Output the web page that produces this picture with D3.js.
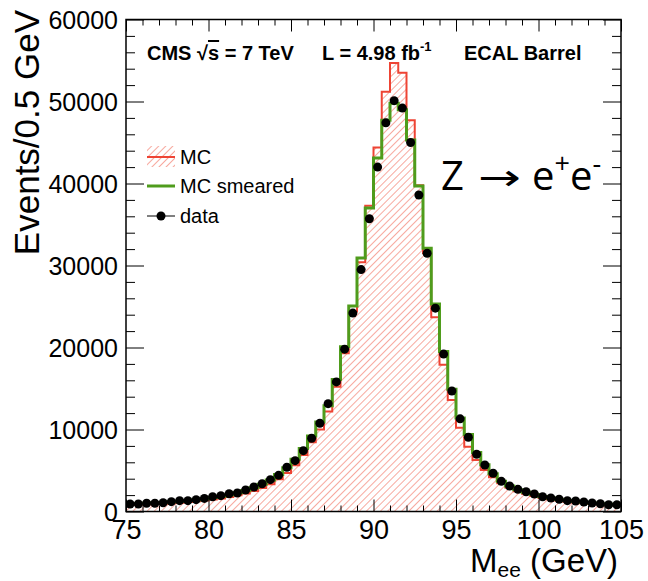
<!DOCTYPE html>
<html>
<head>
<meta charset="utf-8">
<script src="https://cdn.jsdelivr.net/npm/d3@7"></script>
<style>
  html, body { margin: 0; padding: 0; background: #ffffff; }
  svg { display: block; }
  text { font-family: "Liberation Sans", Arial, Helvetica, sans-serif; fill: #000; }
</style>
</head>
<body>
<svg id="chart" width="648" height="581"></svg>
<script>
// Dielectron invariant mass, 0.5 GeV bins from 75 to 105 GeV (lower bin edges)
const binEdges = d3.range(60).map(i => 75 + i * 0.5);

// Simulation without extra energy smearing
const mcValues = [
  800, 820, 860, 900, 950, 1010, 1080, 1150, 1240, 1340,
  1460, 1600, 1770, 1970, 2210, 2500, 2870, 3330, 3920, 4680,
  5650, 6900, 8450, 10000, 12200, 15200, 19300, 24400, 30400, 37300,
  44400, 51200, 54700, 53500, 47700, 39800, 31500, 23700, 17900, 13600,
  10200, 7900, 6280, 5060, 4170, 3450, 2900, 2480, 2150, 1880,
  1660, 1480, 1330, 1200, 1090, 1000, 920, 850, 790, 740
];

// Simulation after smearing
const mcSmearedValues = [
  950, 980, 1020, 1060, 1110, 1180, 1260, 1340, 1440, 1560,
  1700, 1860, 2050, 2280, 2560, 2900, 3320, 3850, 4500, 5330,
  6380, 7680, 9200, 10900, 12900, 16100, 20100, 25060, 30900, 37000,
  43100, 47700, 49800, 49000, 45300, 39700, 32100, 25300, 19500, 14900,
  11400, 9400, 7200, 5700, 4600, 3700, 3100, 2650, 2350, 2080,
  1820, 1640, 1470, 1340, 1230, 1120, 1030, 950, 880, 820
];

// Recorded events per bin
const dataValues = [
  910, 920, 1000, 1000, 1070, 1200, 1320, 1320, 1440, 1600,
  1800, 1930, 2170, 2250, 2620, 2990, 3390, 3880, 4410, 5390,
  6200, 7420, 8930, 10760, 13150, 15800, 19800, 24200, 29500, 35700,
  42000, 47400, 50100, 49200, 45000, 38600, 31500, 24800, 19200, 14700,
  11300, 9050, 6980, 5670, 4660, 3680, 3110, 2700, 2410, 2130,
  1800, 1650, 1490, 1320, 1280, 1160, 1040, 950, 830, 830
];

const xMajorTicks = [75, 80, 85, 90, 95, 100, 105];
const yMajorTicks = [0, 10000, 20000, 30000, 40000, 50000, 60000];
const legendLabels = ["MC", "MC smeared", "data"];

const binWidth = 0.5;
const frame = { left: 126, right: 621, top: 19.5, bottom: 511.5 };
const colors = { mc: "#ee4434", hatch: "#f0604f", smeared: "#4f9c1c", data: "#000000" };

const svg = d3.select("#chart");

const x = d3.scaleLinear().domain([75, 105]).range([frame.left, frame.right]);
const y = d3.scaleLinear().domain([0, 60000]).range([frame.bottom, frame.top]);

// Hatch pattern for the MC histogram
const defs = svg.append("defs");
const pat = defs.append("pattern")
  .attr("id", "hatch")
  .attr("patternUnits", "userSpaceOnUse")
  .attr("width", 5).attr("height", 5)
  .attr("patternTransform", "rotate(45)");
pat.append("line")
  .attr("x1", 0).attr("y1", 0).attr("x2", 0).attr("y2", 5)
  .attr("stroke", colors.hatch).attr("stroke-width", 1.1);

defs.append("clipPath").attr("id", "plotClip")
  .append("rect")
  .attr("x", frame.left).attr("y", frame.top)
  .attr("width", frame.right - frame.left).attr("height", frame.bottom - frame.top);

// Histogram step points: one per bin plus closing edge
function stepPoints(values) {
  const pts = values.map((v, i) => ({ m: binEdges[i], v }));
  pts.push({ m: binEdges[binEdges.length - 1] + binWidth, v: values[values.length - 1] });
  return pts;
}

const stepLine = d3.line().x(d => x(d.m)).y(d => y(d.v)).curve(d3.curveStepAfter);
const stepArea = d3.area().x(d => x(d.m)).y0(y(0)).y1(d => y(d.v)).curve(d3.curveStepAfter);

const plot = svg.append("g").attr("clip-path", "url(#plotClip)");

const mcPts = stepPoints(mcValues);
plot.append("path").datum(mcPts)
  .attr("d", stepArea).attr("fill", "url(#hatch)");
plot.append("path").datum(mcPts)
  .attr("d", stepLine).attr("fill", "none")
  .attr("stroke", colors.mc).attr("stroke-width", 2);

plot.append("path").datum(stepPoints(mcSmearedValues))
  .attr("d", stepLine).attr("fill", "none")
  .attr("stroke", colors.smeared).attr("stroke-width", 3);

plot.selectAll("circle.data").data(dataValues).enter()
  .append("circle").attr("class", "data")
  .attr("cx", (d, i) => x(binEdges[i] + binWidth / 2))
  .attr("cy", d => y(d))
  .attr("r", 4.5)
  .attr("fill", colors.data);

// Axes with inward ticks on all four sides
const xMinor = d3.range(75, 106, 1).filter(v => v % 5 !== 0);
const yMinor = d3.range(0, 60001, 2000).filter(v => v % 10000 !== 0);

function styleAxis(g) {
  g.select(".domain").remove();
  g.selectAll(".tick line").attr("stroke", "#000").attr("stroke-width", 1);
}

// bottom
svg.append("g").attr("transform", `translate(0,${frame.bottom})`)
  .call(d3.axisBottom(x).tickValues(xMinor).tickSize(-6).tickFormat(""))
  .call(styleAxis);
const xAxisG = svg.append("g").attr("transform", `translate(0,${frame.bottom})`)
  .call(d3.axisBottom(x).tickValues(xMajorTicks).tickSize(-12).tickFormat(d3.format("d")))
  .call(styleAxis);
xAxisG.selectAll(".tick text")
  .attr("font-size", 27).attr("y", 8).attr("dy", "0.71em")
  .style("font-family", "'Liberation Sans', Arial, sans-serif");

// top
svg.append("g").attr("transform", `translate(0,${frame.top})`)
  .call(d3.axisTop(x).tickValues(xMinor).tickSize(-6).tickFormat(""))
  .call(styleAxis);
svg.append("g").attr("transform", `translate(0,${frame.top})`)
  .call(d3.axisTop(x).tickValues(xMajorTicks).tickSize(-12).tickFormat(""))
  .call(styleAxis);

// left
svg.append("g").attr("transform", `translate(${frame.left},0)`)
  .call(d3.axisLeft(y).tickValues(yMinor).tickSize(-9).tickFormat(""))
  .call(styleAxis);
const yAxisG = svg.append("g").attr("transform", `translate(${frame.left},0)`)
  .call(d3.axisLeft(y).tickValues(yMajorTicks).tickSize(-18).tickFormat(d3.format("d")))
  .call(styleAxis);
yAxisG.selectAll(".tick text")
  .attr("font-size", 25).attr("x", -8).attr("dy", "0.36em")
  .style("font-family", "'Liberation Sans', Arial, sans-serif");

// right
svg.append("g").attr("transform", `translate(${frame.right},0)`)
  .call(d3.axisRight(y).tickValues(yMinor).tickSize(-9).tickFormat(""))
  .call(styleAxis);
svg.append("g").attr("transform", `translate(${frame.right},0)`)
  .call(d3.axisRight(y).tickValues(yMajorTicks).tickSize(-18).tickFormat(""))
  .call(styleAxis);

// frame
svg.append("rect")
  .attr("x", frame.left).attr("y", frame.top)
  .attr("width", frame.right - frame.left).attr("height", frame.bottom - frame.top)
  .attr("fill", "none").attr("stroke", "#000").attr("stroke-width", 1.5);

// Axis titles
const xTitle = svg.append("text")
  .attr("x", 618).attr("y", 572).attr("text-anchor", "end").attr("font-size", 33);
xTitle.append("tspan").text("M");
xTitle.append("tspan").attr("font-size", 21).attr("dy", 5).text("ee");
xTitle.append("tspan").attr("dy", -5).text(" (GeV)");

svg.append("text")
  .attr("transform", "translate(39,10) rotate(-90)")
  .attr("text-anchor", "end").attr("font-size", 35)
  .text("Events/0.5 GeV");

// Header line
const header = svg.append("g");
const cms = header.append("text").attr("x", 147).attr("y", 60)
  .attr("font-weight", "bold").attr("font-size", 20);
cms.append("tspan").text("CMS \u221A");
cms.append("tspan").style("text-decoration", "overline").text("s");
cms.append("tspan").text(" = 7 TeV");
const lumi = header.append("text").attr("x", 322).attr("y", 60)
  .attr("font-weight", "bold").attr("font-size", 20);
lumi.append("tspan").text("L = 4.98 fb");
lumi.append("tspan").attr("font-size", 13).attr("dy", -9).text("-1");
header.append("text").attr("x", 464).attr("y", 60)
  .attr("font-weight", "bold").attr("font-size", 20)
  .text("ECAL Barrel");

// Legend
const legend = svg.append("g");
const legRows = [157, 186, 216];
const legX0 = 147, legX1 = 175;
legend.append("rect")
  .attr("x", legX0).attr("y", legRows[0] - 11).attr("width", legX1 - legX0).attr("height", 21)
  .attr("fill", "url(#hatch)");
legend.append("line")
  .attr("x1", legX0).attr("x2", legX1).attr("y1", legRows[0]).attr("y2", legRows[0])
  .attr("stroke", colors.mc).attr("stroke-width", 2);
legend.append("line")
  .attr("x1", legX0).attr("x2", legX1).attr("y1", legRows[1]).attr("y2", legRows[1])
  .attr("stroke", colors.smeared).attr("stroke-width", 3);
legend.append("line")
  .attr("x1", legX0).attr("x2", legX1).attr("y1", legRows[2]).attr("y2", legRows[2])
  .attr("stroke", "#000").attr("stroke-width", 1);
legend.append("circle")
  .attr("cx", (legX0 + legX1) / 2).attr("cy", legRows[2]).attr("r", 4.5).attr("fill", "#000");
legend.selectAll("text.leg").data(legendLabels).enter()
  .append("text").attr("class", "leg")
  .attr("x", 180).attr("y", (d, i) => legRows[i] + 7)
  .attr("font-size", 20)
  .text(d => d);

// Process annotation
const procFont = "'Open Sans', 'DejaVu Sans', sans-serif";
const proc = svg.append("g").attr("font-size", 40).style("font-family", procFont);
proc.append("text").attr("x", 441).attr("y", 190).style("font-family", procFont).text("Z");
proc.append("text").attr("x", 478).attr("y", 190)
  .style("font-family", "'DejaVu Sans', sans-serif").attr("font-size", 36)
  .attr("textLength", 43).attr("lengthAdjust", "spacingAndGlyphs")
  .text("\u2192");
const ee = proc.append("text").attr("x", 532).attr("y", 190).style("font-family", procFont);
ee.append("tspan").text("e");
ee.append("tspan").attr("font-size", 27).attr("dy", -17).text("+");
ee.append("tspan").attr("dy", 17).text("e");
ee.append("tspan").attr("font-size", 27).attr("dy", -17).text("-");
</script>
</body>
</html>
